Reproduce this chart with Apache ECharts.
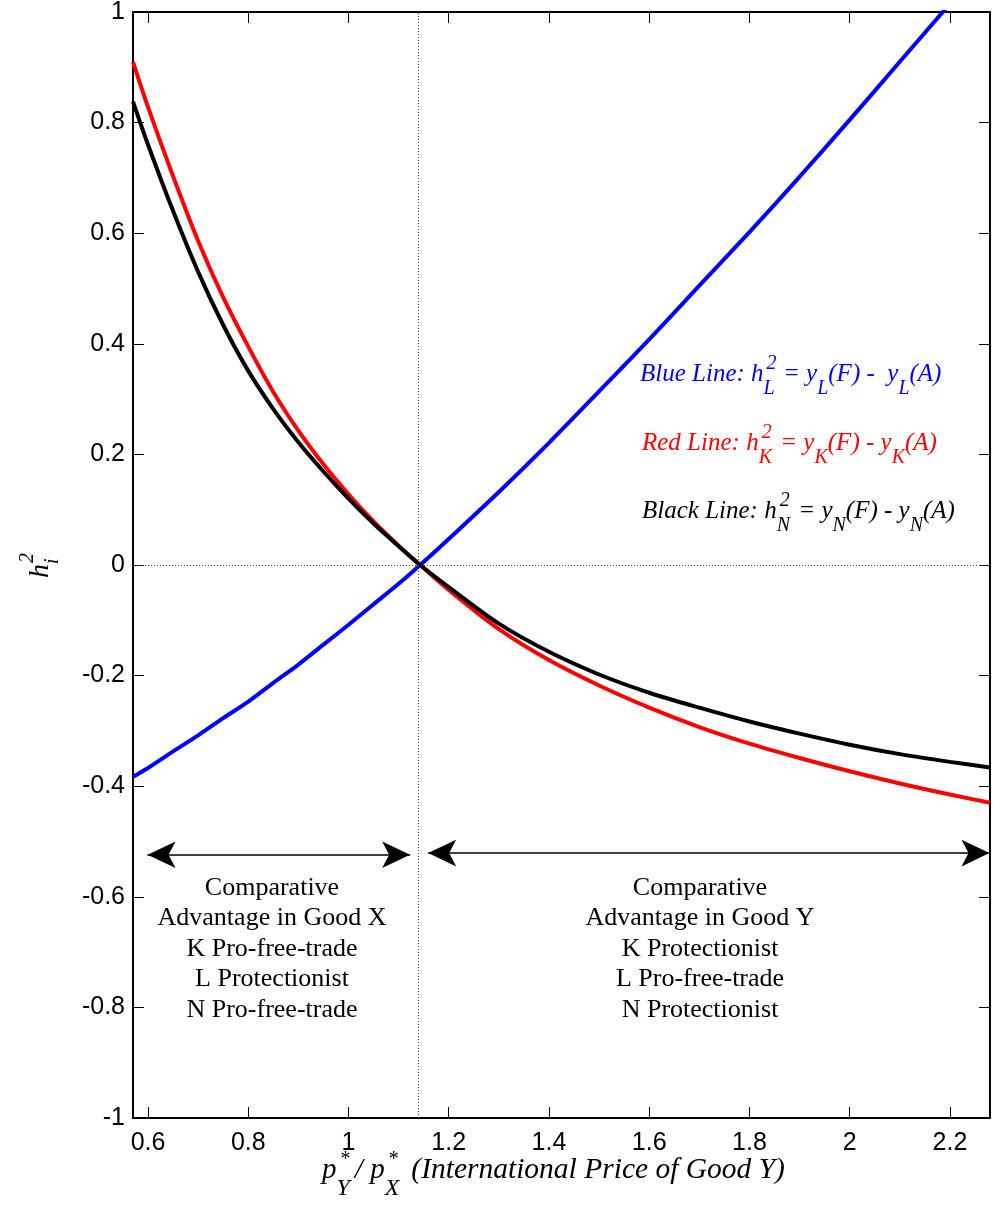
<!DOCTYPE html>
<html>
<head>
<meta charset="utf-8">
<script src="https://cdn.jsdelivr.net/npm/echarts@6/dist/echarts.min.js"></script>
<style>
  html, body { margin: 0; padding: 0; background: #fff; }
  #chart { width: 1002px; height: 1211px; }
</style>
</head>
<body>
<div id="chart"></div>
<script>
// values
const priceRatio = [0.57, 0.6, 0.65, 0.7, 0.75, 0.8, 0.85, 0.9, 0.95, 1.0, 1.05, 1.1, 1.143,
  1.2, 1.3, 1.4, 1.5, 1.6, 1.7, 1.8, 1.9, 2.0, 2.1, 2.2, 2.28]
const blueL = [-0.383, -0.367, -0.337, -0.308, -0.277, -0.247, -0.213, -0.180, -0.144, -0.108, -0.071, -0.034, 0,
  0.047, 0.132, 0.221, 0.314, 0.408, 0.505, 0.602, 0.702, 0.805, 0.910, 1.015, 1.10]
const redK = [0.910, 0.828, 0.703, 0.586, 0.484, 0.395, 0.313, 0.243, 0.182, 0.128, 0.079, 0.035, 0,
  -0.045, -0.116, -0.172, -0.218, -0.258, -0.293, -0.323, -0.349, -0.373, -0.395, -0.415, -0.430]
const blackN = [0.838, 0.760, 0.640, 0.530, 0.434, 0.351, 0.282, 0.222, 0.169, 0.120, 0.075, 0.034, 0,
  -0.040, -0.106, -0.157, -0.198, -0.231, -0.258, -0.283, -0.305, -0.325, -0.342, -0.356, -0.366]

const xTicks = [0.6, 0.8, 1, 1.2, 1.4, 1.6, 1.8, 2, 2.2]
const xRange = [0.57, 2.28]
const yRange = [-1, 1]
const crossAt = 1.143

// arrows: [x from, x to, y]
const arrowX = [0.599, 1.123, -0.524]
const arrowY = [1.159, 2.279, -0.521]

const leftText = ['Comparative', 'Advantage in Good X', 'K Pro-free-trade', 'L Protectionist', 'N Pro-free-trade']
const rightText = ['Comparative', 'Advantage in Good Y', 'K Protectionist', 'L Pro-free-trade', 'N Protectionist']

const SERIF = '"Liberation Serif", "DejaVu Serif", serif'
const SANS = '"Liberation Sans", Arial, sans-serif'
const ctx = document.createElement('canvas').getContext('2d')
const measure = (t, size, style) => {
  ctx.font = `${style} ${size}px ${SERIF}`
  return ctx.measureText(t).width
}

// lay out a row of text pieces on a common baseline
const textRun = (x0, base, pieces, color, style) => {
  let x = x0
  const out = []
  pieces.forEach(p => {
    const size = p.s || 25
    out.push({
      type: 'text',
      x: x + (p.dx || 0),
      y: base + (p.dy || 0) - 0.34 * size,
      silent: true,
      style: {
        text: p.t,
        fill: color,
        font: `${style} ${size}px ${SERIF}`,
        align: 'left',
        verticalAlign: 'middle'
      }
    })
    if (!p.stack) x += measure(p.t, size, style) + (p.gap || 0)
  })
  return out
}

const centerLines = (cx, base0, step, lines) => lines.map((t, i) => ({
  type: 'text',
  x: cx,
  y: base0 + i * step - 0.34 * 26,
  silent: true,
  style: {
    text: t,
    fill: '#000',
    font: `26px ${SERIF}`,
    align: 'center',
    verticalAlign: 'middle'
  }
}))

const SUB = 20
const legendRow = (x, base, idx, color, label, gapEq) => textRun(x, base, [
  { t: label + 'h' },
  { t: '2', s: SUB, dy: -12, stack: true, dx: 3 },
  { t: idx, s: SUB, dy: 13, gap: 2 },
  { t: ' = y' },
  { t: idx, s: SUB, dy: 13 },
  { t: '(F) -' + gapEq + 'y' },
  { t: idx, s: SUB, dy: 13 },
  { t: '(A)' }
], color, 'italic')

const chart = echarts.init(document.getElementById('chart'))

const axisLineStyle = { color: '#000', width: 2 }

const option = {
  backgroundColor: '#fff',
  animation: false,
  grid: { left: 133, right: 12, top: 12, bottom: 93, outerBoundsMode: 'none' },
  xAxis: [
    {
      type: 'value', min: xRange[0], max: xRange[1],
      axisLine: { onZero: false, lineStyle: axisLineStyle },
      axisTick: { inside: true, length: 11, customValues: xTicks, lineStyle: { color: '#000', width: 1 } },
      axisLabel: {
        customValues: xTicks, margin: 13, color: '#000', fontSize: 25, fontFamily: SANS
      },
      splitLine: { show: false }
    },
    {
      type: 'value', position: 'top', min: xRange[0], max: xRange[1],
      axisLine: { onZero: false, lineStyle: axisLineStyle },
      axisTick: { inside: true, length: 11, customValues: xTicks, lineStyle: { color: '#000', width: 1 } },
      axisLabel: { show: false },
      splitLine: { show: false }
    }
  ],
  yAxis: [
    {
      type: 'value', min: yRange[0], max: yRange[1], interval: 0.2,
      axisLine: { show: true, onZero: false, lineStyle: axisLineStyle },
      axisTick: { show: true, inside: true, length: 11, lineStyle: { color: '#000', width: 1 } },
      axisLabel: {
        margin: 8, color: '#000', fontSize: 25, fontFamily: SANS,
        formatter: v => String(Math.round(v * 10) / 10)
      },
      splitLine: { show: false }
    },
    {
      type: 'value', position: 'right', min: yRange[0], max: yRange[1], interval: 0.2,
      axisLine: { show: true, onZero: false, lineStyle: axisLineStyle },
      axisTick: { show: true, inside: true, length: 11, lineStyle: { color: '#000', width: 1 } },
      axisLabel: { show: false },
      splitLine: { show: false }
    }
  ],
  series: [
    {
      name: 'ref', type: 'line', data: [], silent: true,
      markLine: {
        silent: true, symbol: 'none', label: { show: false },
        lineStyle: { color: '#444', width: 1, type: [1, 2] },
        data: [{ xAxis: crossAt }, { yAxis: 0 }]
      }
    },
    {
      name: 'L', type: 'line', smooth: 0.3, showSymbol: false, clip: true,
      lineStyle: { color: '#0000ff', width: 4 },
      data: priceRatio.map((x, i) => [x, blueL[i]])
    },
    {
      name: 'K', type: 'line', smooth: 0.3, showSymbol: false, clip: true,
      lineStyle: { color: '#ff0000', width: 4 },
      data: priceRatio.map((x, i) => [x, redK[i]])
    },
    {
      name: 'N', type: 'line', smooth: 0.3, showSymbol: false, clip: true,
      lineStyle: { color: '#000000', width: 4 },
      data: priceRatio.map((x, i) => [x, blackN[i]])
    },
    {
      name: 'arrows', type: 'line', data: [], silent: true,
      markLine: {
        silent: true, symbol: ['arrow', 'arrow'], symbolSize: [20, 28],
        label: { show: false },
        lineStyle: { color: '#000', width: 1.5, type: 'solid' },
        itemStyle: { color: '#000' },
        data: [
          [{ coord: [arrowX[0], arrowX[2]] }, { coord: [arrowX[1], arrowX[2]] }],
          [{ coord: [arrowY[0], arrowY[2]] }, { coord: [arrowY[1], arrowY[2]] }]
        ]
      }
    }
  ],
  graphic: [
    ...legendRow(640, 383, 'L', '#0000ff', 'Blue Line: ', '  '),
    ...legendRow(642, 452, 'K', '#ff0000', 'Red Line: ', ' '),
    ...legendRow(642, 520, 'N', '#000000', 'Black Line: ', ' '),
    ...centerLines(272, 897, 30.5, leftText),
    ...centerLines(700, 897, 30.5, rightText),
    // x axis name
    ...textRun(322, 1180, [
      { t: 'p', s: 29 },
      { t: '*', s: 20, dy: -13, stack: true, dx: 3 },
      { t: 'Y', s: 24, dy: 17, gap: 5 },
      { t: '/ ', s: 29 },
      { t: 'p', s: 29 },
      { t: '*', s: 20, dy: -13, stack: true, dx: 3 },
      { t: 'X', s: 24, dy: 17, gap: 12 },
      { t: '(International Price of Good Y)', s: 29.5 }
    ], '#000', 'italic'),
    // y axis name, rotated
    {
      type: 'group', x: 50, y: 565, rotation: Math.PI / 2,
      children: textRun(-13, 0, [
        { t: 'h', s: 28 },
        { t: '2', s: 20, dy: -15, stack: true, dx: 1 },
        { t: 'i', s: 20, dy: 10 }
      ], '#000', 'italic')
    }
  ]
}

chart.setOption(option)
</script>
</body>
</html>
